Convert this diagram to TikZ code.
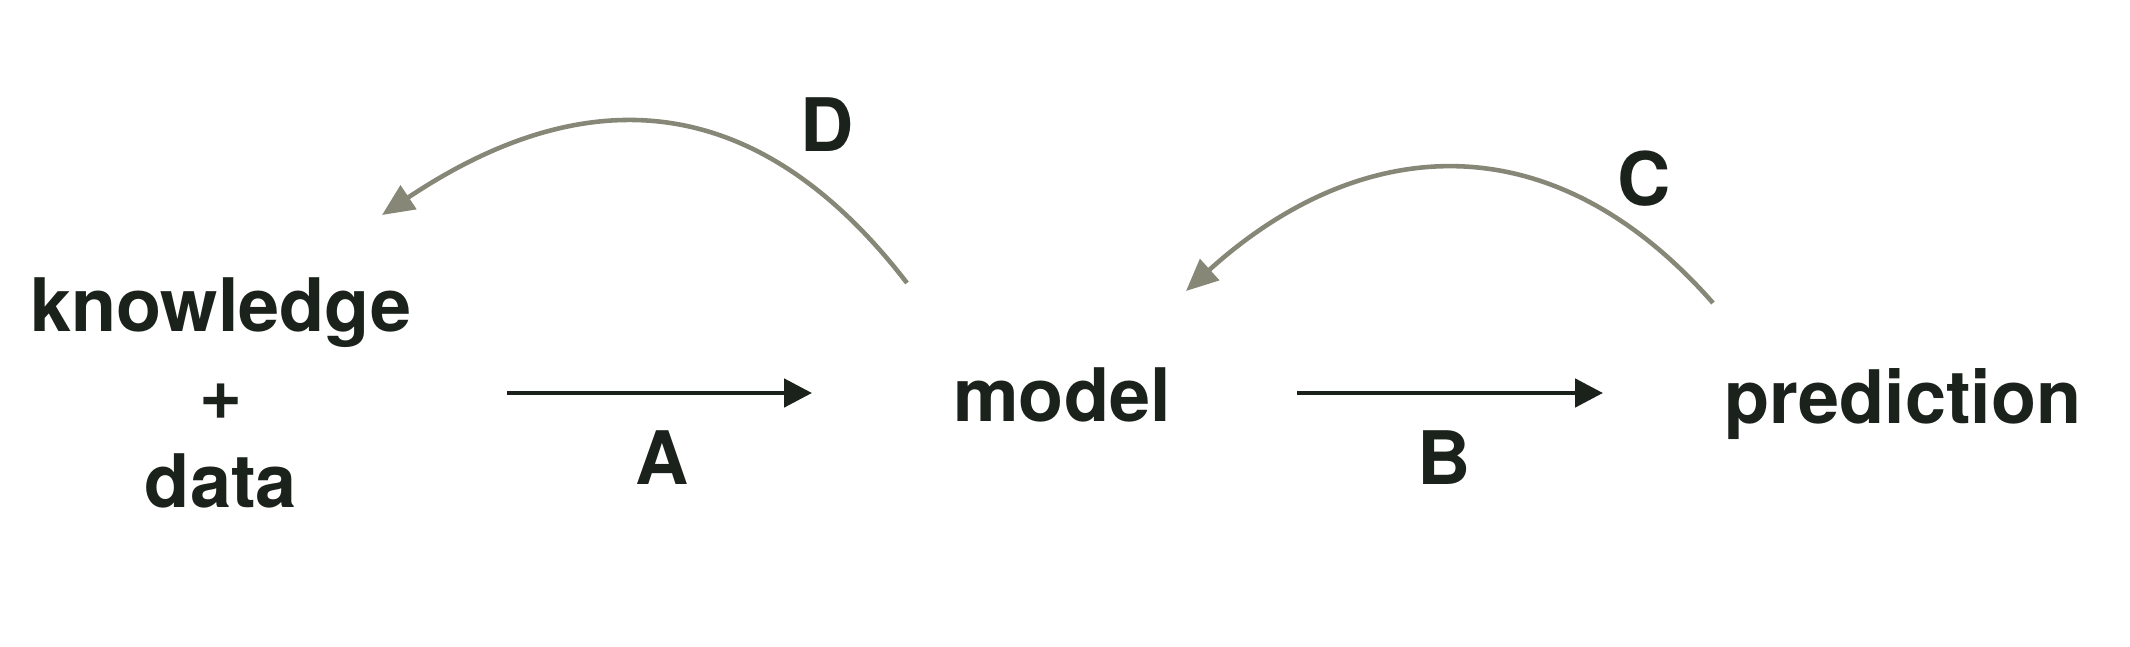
\documentclass[tikz,border=0pt]{standalone}
\usepackage{fontspec}
\setmainfont{TeX Gyre Heros}
\usetikzlibrary{arrows.meta}
\definecolor{ink}{RGB}{27,34,28}
\definecolor{loopgray}{RGB}{134,135,118}
\tikzset{
  word/.style={font=\fontsize{21}{25}\selectfont\bfseries, text=ink, inner sep=0pt},
  fwd/.style={draw=ink, line width=1.4pt, -{Triangle[length=0.28cm, width=0.28cm]}},
  back/.style={draw=loopgray, line width=1.3pt, -{Triangle[length=0.32cm, width=0.28cm]}}
}
\begin{document}
\begin{tikzpicture}
    \useasboundingbox (0,0) rectangle (21.30,6.46);
    % Nodes
    \node[word, align=center] (kd) at (2.21,2.53) {knowledge\\+\\data};
    \node[word, anchor=base] (model) at (10.62,2.25) {model};
    \node[word, anchor=base] (pred) at (19.03,2.23) {prediction};

    % End points of the arrows
    \coordinate (a0) at (5.07,2.53);
    \coordinate (a1) at (8.12,2.53);
    \coordinate (b0) at (12.97,2.53);
    \coordinate (b1) at (16.03,2.53);
    \coordinate (d0) at (9.07,3.63);
    \coordinate (d1) at (3.82,4.31);
    \coordinate (c0) at (17.13,3.43);
    \coordinate (c1) at (11.86,3.55);

    % Arrows with labels
    \draw[fwd] (a0) -- (a1);
    \node[word, anchor=base] (la) at (6.62,1.62) {A};
    \draw[fwd] (b0) -- (b1);
    \node[word, anchor=base] (lb) at (14.44,1.62) {B};
    \draw[back] (d0) .. controls (7.4,5.8) and (5.6,5.5) .. (d1);
    \node[word] (ld) at (8.27,5.21) {D};
    \draw[back] (c0) .. controls (15.48,5.31) and (13.56,5.09) .. (c1);
    \node[word] (lc) at (16.44,4.67) {C};
\end{tikzpicture}
\end{document}
